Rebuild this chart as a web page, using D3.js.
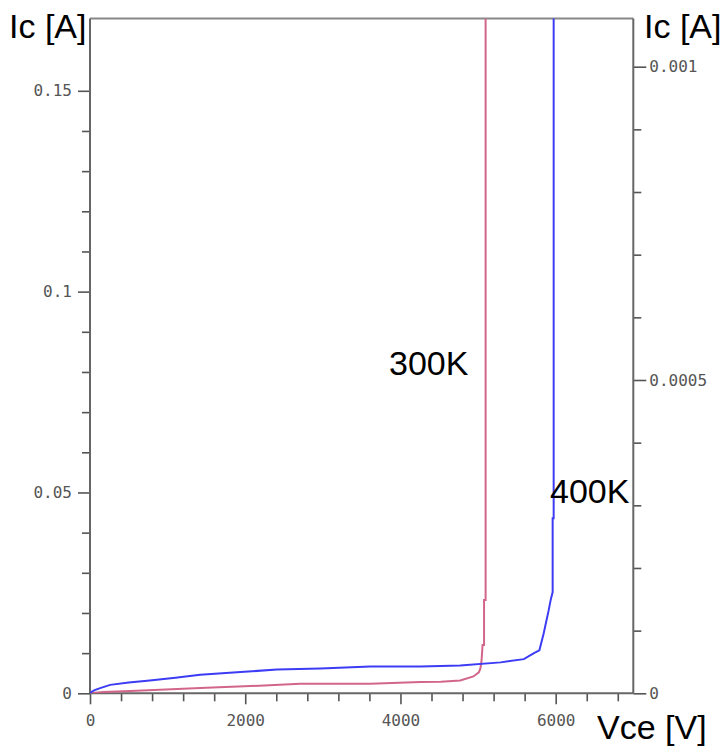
<!DOCTYPE html>
<html>
<head>
<meta charset="utf-8">
<script src="https://cdn.jsdelivr.net/npm/d3@7"></script>
<style>
  html, body { margin: 0; padding: 0; background: #fff; }
  svg { display: block; }
  .tick text { font-family: "DejaVu Sans Mono", monospace; font-size: 16px; fill: #555; }
  .lbl { font-family: "Liberation Sans", Arial, sans-serif; font-size: 34px; fill: #000; }
</style>
</head>
<body>
<svg id="chart" width="723" height="749"></svg>
<script>
// Collector current vs. collector-emitter voltage, breakdown at two temperatures
const vce300 = [0, 170, 520, 900, 1420, 2070, 2710, 3610, 4260, 4520, 4770, 4940, 5010, 5030, 5045, 5058, 5077, 5077, 5097, 5097];
const ic300  = [0, 0.0003, 0.0006, 0.0009, 0.0013, 0.0018, 0.0024, 0.0024, 0.0028, 0.0029, 0.0032, 0.0042, 0.0052, 0.0062, 0.0082, 0.012, 0.012, 0.0232, 0.0232, 0.17];

const vce400 = [0, 22, 60, 130, 260, 500, 770, 1100, 1420, 1940, 2410, 2970, 3610, 4260, 4770, 5290, 5590, 5720, 5790, 5845, 5910, 5935, 5961, 5961, 5974, 5974];
const ic400  = [0, 0.0004, 0.0008, 0.0013, 0.0021, 0.0027, 0.0032, 0.0039, 0.0046, 0.0053, 0.0059, 0.0062, 0.0067, 0.0067, 0.0069, 0.0077, 0.0085, 0.0100, 0.0107, 0.0149, 0.0207, 0.0232, 0.0252, 0.0436, 0.0436, 0.17];

const xMajor = [0, 2000, 4000, 6000];
const xMinor = [400, 800, 1200, 1600, 2400, 2800, 3200, 3600, 4400, 4800, 5200, 5600, 6400, 6800];
const yLeftMajor = [0, 0.05, 0.1, 0.15];
const yLeftMinor = [0.01, 0.02, 0.03, 0.04, 0.06, 0.07, 0.08, 0.09, 0.11, 0.12, 0.13, 0.14];
const yRightMajor = [0, 0.0005, 0.001];
const yRightMinor = [0.0001, 0.0002, 0.0003, 0.0004, 0.0006, 0.0007, 0.0008, 0.0009];

const curves = [
  { name: "300K", vce: vce300, ic: ic300, color: "#d2668a" },
  { name: "400K", vce: vce400, ic: ic400, color: "#3c3cf5" }
];

const plotLeft = 90, plotRight = 633.3, plotTop = 18.5, plotBottom = 693.3;

const svg = d3.select("#chart");
const x = d3.scaleLinear().domain([0, 7000]).range([plotLeft, plotRight]);
const yL = d3.scaleLinear().domain([0, 0.168]).range([plotBottom, plotTop]);
const yR = d3.scaleLinear().domain([0, 0.0010769]).range([plotBottom, plotTop]);

const fmtL = d => d === 0 ? "0" : String(+d.toFixed(2));
const fmtR = d => d === 0 ? "0" : String(+d.toFixed(4));

function styleAxis(g) {
  g.select(".domain").remove();
  g.selectAll(".tick line").attr("stroke", "#555").attr("stroke-width", 1.6);
}

// minor ticks
svg.append("g").attr("transform", `translate(${plotLeft},0)`)
  .call(d3.axisLeft(yL).tickValues(yLeftMinor).tickSize(8).tickFormat(""))
  .call(styleAxis);
svg.append("g").attr("transform", `translate(${plotRight},0)`)
  .call(d3.axisRight(yR).tickValues(yRightMinor).tickSize(8).tickFormat(""))
  .call(styleAxis);
svg.append("g").attr("transform", `translate(0,${plotBottom})`)
  .call(d3.axisBottom(x).tickValues(xMinor).tickSize(8).tickFormat(""))
  .call(styleAxis);

// major ticks with labels
svg.append("g").attr("transform", `translate(${plotLeft},0)`)
  .call(d3.axisLeft(yL).tickValues(yLeftMajor).tickSize(12).tickPadding(6).tickFormat(fmtL))
  .call(styleAxis);
svg.append("g").attr("transform", `translate(${plotRight},0)`)
  .call(d3.axisRight(yR).tickValues(yRightMajor).tickSize(13).tickPadding(3).tickFormat(fmtR))
  .call(styleAxis);
svg.append("g").attr("transform", `translate(0,${plotBottom})`)
  .call(d3.axisBottom(x).tickValues(xMajor).tickSize(11).tickPadding(10).tickFormat(d3.format("d")))
  .call(styleAxis);

// frame
svg.append("line").attr("x1", plotLeft).attr("x2", plotRight).attr("y1", plotTop).attr("y2", plotTop)
  .attr("stroke", "#888").attr("stroke-width", 2);
svg.append("line").attr("x1", plotLeft).attr("x2", plotLeft).attr("y1", plotTop).attr("y2", plotBottom)
  .attr("stroke", "#666").attr("stroke-width", 2);
svg.append("line").attr("x1", plotRight).attr("x2", plotRight).attr("y1", plotTop).attr("y2", plotBottom)
  .attr("stroke", "#666").attr("stroke-width", 2);
svg.append("line").attr("x1", plotLeft).attr("x2", plotRight).attr("y1", plotBottom).attr("y2", plotBottom)
  .attr("stroke", "#666").attr("stroke-width", 2);

// curves
svg.append("clipPath").attr("id", "plot-clip")
  .append("rect").attr("x", plotLeft).attr("y", plotTop)
  .attr("width", plotRight - plotLeft).attr("height", plotBottom - plotTop);

const line = d3.line().x(d => x(d[0])).y(d => yL(d[1]));
svg.append("g").attr("clip-path", "url(#plot-clip)")
  .selectAll("path").data(curves).join("path")
  .attr("d", c => line(c.vce.map((v, i) => [v, c.ic[i]])))
  .attr("fill", "none")
  .attr("stroke", c => c.color)
  .attr("stroke-width", 2);

// axis titles and curve labels
svg.append("text").attr("class", "lbl").attr("x", 9).attr("y", 38).text("Ic [A]");
svg.append("text").attr("class", "lbl").attr("x", 644).attr("y", 38).text("Ic [A]");
svg.append("text").attr("class", "lbl").attr("x", 597).attr("y", 739).text("Vce [V]");
svg.append("text").attr("class", "lbl").attr("x", 389).attr("y", 375).text("300K");
svg.append("text").attr("class", "lbl").attr("x", 550).attr("y", 503).text("400K");
</script>
</body>
</html>
